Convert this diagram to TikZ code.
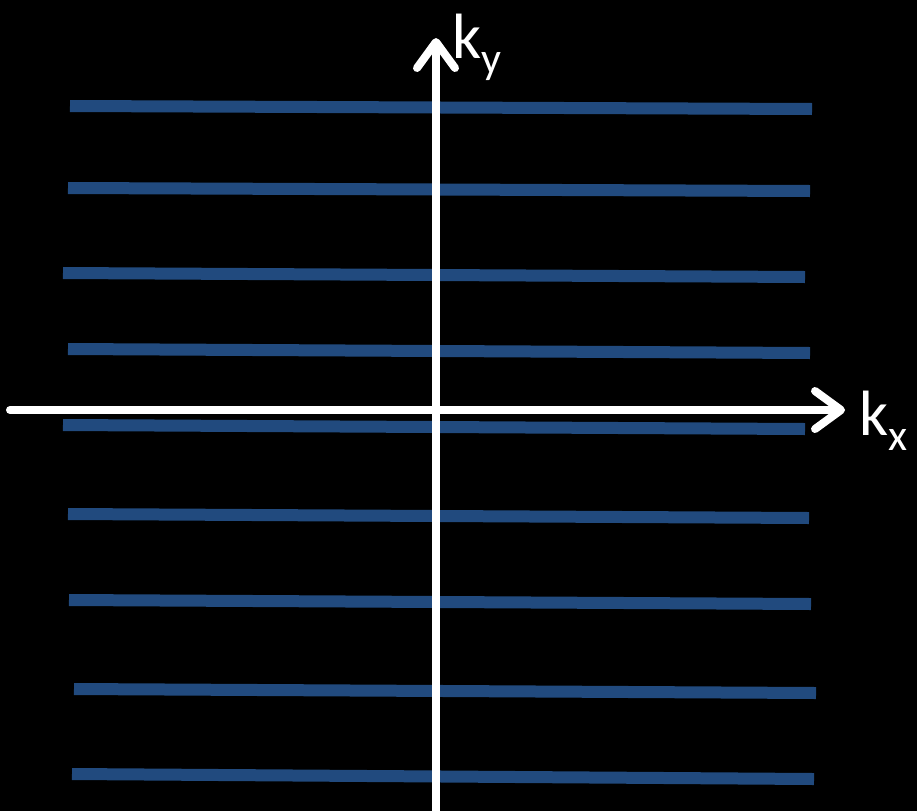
\documentclass[tikz,border=0pt]{standalone}
\usepackage{fontspec}
\setmainfont{Carlito}
\usetikzlibrary{arrows.meta}
\definecolor{kblue}{RGB}{33, 74, 126}
\tikzstyle{kline} = [line width=12pt, kblue]
\tikzstyle{axis} = [-{Straight Barb[length=26pt, width=38pt, round]}, line width=8pt, white, line cap=round]
\tikzstyle{klabel} = [white, inner sep=0pt, anchor=base west, font=\fontsize{64}{70}\selectfont]
\newcommand{\ksub}[1]{\raisebox{-15pt}{\fontsize{44}{48}\selectfont #1}}

\begin{document}
\begin{tikzpicture}[x=1pt, y=-1pt]

% Background
\fill[black] (0,0) rectangle (917,811);
\useasboundingbox (0,0) rectangle (917,811);

% Sampled lines in k-space
\foreach \xa/\ya/\xb/\yb in {70/106/812/109, 68/188/810/191, 63/273/805/277,
    68/349/810/353, 63/425/805/429, 68/514/809/518, 69/600/811/604,
    74/689/816/693, 72/774/814/779}
    \draw[kline] (\xa,\ya) -- (\xb,\yb);

% Axes
\coordinate (kxstart) at (10,410);
\coordinate (kxend) at (845,410);
\coordinate (kystart) at (436,811);
\coordinate (kyend) at (436,38);
\draw[axis] (kxstart) -- (kxend);
\draw[axis] (kystart) -- (kyend);

% Labels
\node[klabel] (kylabel) at (452,58) {k\ksub{y}};
\node[klabel] (kxlabel) at (859,435) {k\ksub{x}};

\end{tikzpicture}
\end{document}
